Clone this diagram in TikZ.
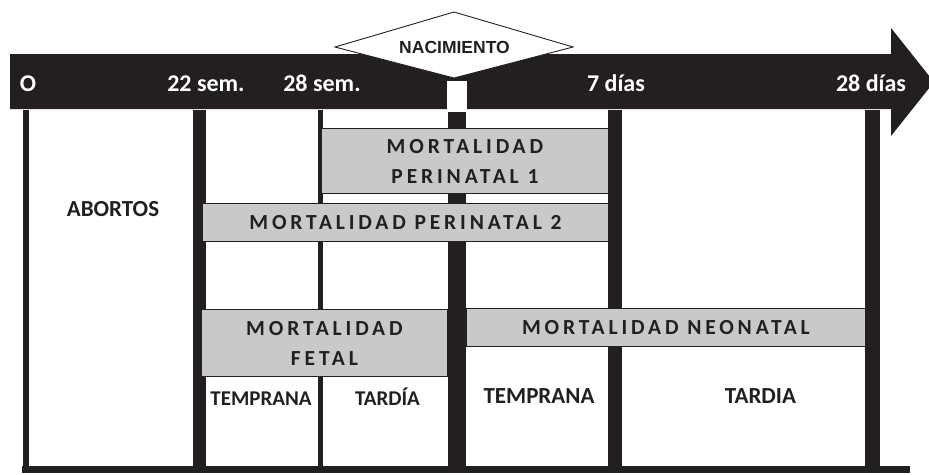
\documentclass[tikz,border=0pt]{standalone}
\usepackage{fontspec}
\setmainfont{Carlito}
\newfontfamily\spacedfont[LetterSpace=18]{Carlito}
\newfontfamily\arialfont{Liberation Sans}
\definecolor{barcol}{HTML}{231F20}
\definecolor{boxgray}{HTML}{C8C9CB}
\begin{document}
\begin{tikzpicture}[x=1pt,y=-1pt,
  axislabel/.style={text=white, font=\fontsize{24}{26}\selectfont\bfseries, inner sep=0, anchor=base},
  graybox/.style={fill=boxgray, draw=barcol, line width=0.9pt, inner sep=0, anchor=north west, align=center, text=barcol, font=\fontsize{21.5}{30}\spacedfont\bfseries},
  celltext/.style={font=\fontsize{21}{24}\selectfont\bfseries, text=barcol, inner sep=0, anchor=base},
  vbar/.style={fill=barcol}]
\useasboundingbox (0,0) rectangle (929,474);
% main arrow
\fill[barcol] (10,54) -- (891,54) -- (891,28) -- (934,82) -- (891,136) -- (891,109) -- (10,109) -- cycle;
\fill[white] (447,81) rectangle (467,110);
% vertical bars
\fill[vbar] (23,110) rectangle (29,467);
\fill[vbar] (193,110) rectangle (206,467);
\fill[vbar] (318,110) rectangle (323,467);
\fill[vbar] (448,112) rectangle (466,467);
\fill[vbar] (608,110) rectangle (622,467);
\fill[vbar] (865,110) rectangle (880,467);
\fill[vbar] (22,466) rectangle (910,473);
% birth diamond
\filldraw[fill=white, draw=barcol, line width=0.9pt] (335,47) -- (454,12) -- (573,47) -- (454,78) -- cycle;
\node[inner sep=0, anchor=base, font=\fontsize{17.5}{20}\arialfont\bfseries, text=barcol] (nac) at (454.5,53) {NACIMIENTO};
% axis labels
\node[axislabel] (t0) at (28,91) {O};
\node[axislabel] (t22) at (206,91) {22 sem.};
\node[axislabel] (t28) at (322,91) {28 sem.};
\node[axislabel] (t7d) at (616,91) {7 días};
\node[axislabel] (t28d) at (871,91) {28 días};
% gray boxes
\node[graybox, minimum width=287pt, minimum height=65pt] (peri1) at (321,128) {MORTALIDAD\\PERINATAL 1};
\node[graybox, minimum width=406pt, minimum height=38pt] (peri2) at (202,203) {MORTALIDAD PERINATAL 2};
\node[graybox, minimum width=246pt, minimum height=67pt] (fetal) at (201,309) {MORTALIDAD\\FETAL};
\node[graybox, minimum width=399pt, minimum height=38pt] (neo) at (466,308) {MORTALIDAD NEONATAL};
% cell labels
\node[celltext, font=\fontsize{23}{26}\selectfont\bfseries] (abort) at (113,216) {ABORTOS};
\node[celltext] (ftemp) at (261,405) {TEMPRANA};
\node[celltext] (ftard) at (387.5,405) {TARDÍA};
\node[celltext, font=\fontsize{23}{26}\selectfont\bfseries] (ntemp) at (539,403) {TEMPRANA};
\node[celltext, font=\fontsize{23}{26}\selectfont\bfseries] (ntard) at (760.5,403) {TARDIA};
\end{tikzpicture}
\end{document}
